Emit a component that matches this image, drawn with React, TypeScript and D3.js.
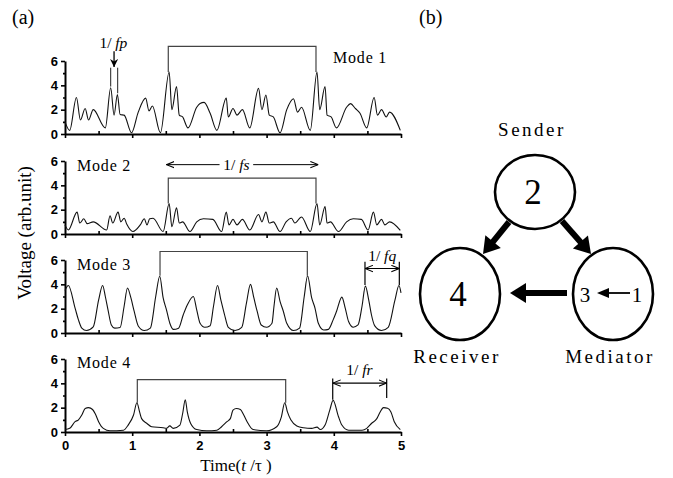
import React, { useEffect, useRef } from "react";
import * as d3 from "d3";

const timeTicks = [0, 1, 2, 3, 4, 5];
const timeMinor = [0.5, 1.5, 2.5, 3.5, 4.5];
const voltTicks = [0, 2, 4, 6];
const voltMinor = [1, 3, 5];
const modeNames = ["Mode 1", "Mode 2", "Mode 3", "Mode 4"];

// [t/tau, voltage]
const mode1: [number, number][] = [
  [0, 1.0], [0.07, 0.3], [0.17, 3.0], [0.23, 1.15], [0.3, 2.1], [0.35, 1.15], [0.42, 2.0],
  [0.6, 0.5], [0.68, 3.8], [0.73, 1.55], [0.78, 3.25], [0.82, 1.6], [0.88, 1.55], [0.99, 0.1],
  [1.09, 1.8], [1.2, 2.95], [1.25, 1.9], [1.3, 2.3], [1.42, 0.1], [1.55, 5.1], [1.59, 2.0],
  [1.66, 3.9], [1.7, 1.55], [1.75, 1.4], [1.83, 0.5], [1.96, 2.2], [2.01, 2.5], [2.07, 2.6],
  [2.16, 1.7], [2.26, 0.3], [2.4, 2.95], [2.43, 1.4], [2.5, 2.1], [2.56, 1.55], [2.64, 2.0],
  [2.75, 0.5], [2.88, 3.75], [2.93, 2.0], [2.99, 3.2], [3.04, 1.55], [3.1, 1.4], [3.2, 0.1],
  [3.3, 2.0], [3.4, 2.9], [3.46, 1.8], [3.52, 2.2], [3.65, 0.3], [3.75, 5.1], [3.79, 2.0],
  [3.87, 3.9], [3.9, 1.55], [3.96, 1.4], [4.04, 0.5], [4.19, 2.2], [4.25, 2.5], [4.32, 2.1],
  [4.39, 1.7], [4.49, 0.5], [4.6, 3.0], [4.65, 1.55], [4.71, 2.0], [4.78, 1.4], [4.83, 1.8],
  [4.99, 0.3],
];

const mode2: [number, number][] = [
  [0, 0.75], [0.05, 0.33], [0.18, 1.8], [0.22, 0.9], [0.28, 1.25], [0.33, 0.85], [0.42, 1.0],
  [0.62, 0.33], [0.67, 1.5], [0.71, 0.9], [0.79, 1.8], [0.83, 1.0], [0.88, 1.3], [0.92, 0.8],
  [1.01, 0.2], [1.12, 0.75], [1.18, 1.25], [1.22, 0.75], [1.26, 1.25], [1.31, 1.3], [1.46, 0.2],
  [1.55, 2.5], [1.59, 0.6], [1.66, 2.15], [1.7, 0.9], [1.75, 1.0], [1.86, 0.2], [1.96, 1.0],
  [2.06, 1.25], [2.2, 1.2], [2.33, 0.2], [2.4, 1.8], [2.44, 0.75], [2.5, 1.2], [2.56, 0.75],
  [2.64, 1.2], [2.75, 0.33], [2.88, 1.6], [2.93, 1.0], [2.99, 1.8], [3.04, 0.9], [3.1, 1.0],
  [3.2, 0.2], [3.29, 1.0], [3.37, 1.3], [3.42, 0.9], [3.52, 1.4], [3.65, 0.2], [3.75, 2.5],
  [3.79, 0.75], [3.87, 2.25], [3.9, 0.9], [3.95, 1.0], [4.07, 0.2], [4.19, 1.0], [4.29, 1.25],
  [4.41, 1.2], [4.51, 0.33], [4.59, 1.8], [4.64, 0.75], [4.71, 1.2], [4.76, 0.75], [4.83, 1.0],
  [4.99, 0.3],
];

const mode3: [number, number][] = [
  [0, 3.5], [0.05, 3.9], [0.15, 2.05], [0.2, 1.08], [0.25, 0.4], [0.32, 0.2], [0.42, 0.5],
  [0.5, 2.7], [0.56, 3.9], [0.6, 3.0], [0.64, 1.9], [0.69, 0.66], [0.74, 0.4], [0.82, 0.45],
  [0.88, 2.2], [0.93, 3.7], [0.98, 2.9], [1.03, 1.77], [1.09, 0.58], [1.18, 0.2], [1.27, 0.4],
  [1.35, 3.0], [1.41, 4.67], [1.46, 2.9], [1.51, 1.9], [1.56, 0.8], [1.61, 0.3], [1.69, 0.4],
  [1.76, 1.5], [1.82, 2.3], [1.91, 3.0], [1.96, 1.9], [2.01, 0.8], [2.08, 0.47], [2.16, 0.6],
  [2.21, 2.2], [2.27, 3.9], [2.32, 2.7], [2.37, 1.6], [2.43, 0.47], [2.53, 0.2], [2.63, 0.47],
  [2.7, 2.45], [2.76, 4.0], [2.81, 2.9], [2.86, 1.77], [2.92, 0.66], [3.0, 0.47], [3.08, 0.8],
  [3.11, 2.2], [3.15, 3.7], [3.2, 2.6], [3.25, 1.77], [3.3, 0.8], [3.4, 0.2], [3.49, 0.4],
  [3.56, 3.0], [3.61, 4.7], [3.67, 2.9], [3.72, 2.05], [3.77, 0.8], [3.85, 0.25], [3.92, 0.3],
  [3.99, 1.08], [4.04, 1.77], [4.12, 2.95], [4.17, 2.05], [4.22, 0.94], [4.29, 0.47], [4.36, 0.66],
  [4.42, 2.2], [4.47, 3.85], [4.52, 2.7], [4.56, 1.5], [4.61, 0.58], [4.71, 0.2], [4.81, 0.47],
  [4.91, 2.7], [4.97, 3.9], [5.0, 3.3],
];

const mode4: [number, number][] = [
  [0, 0.2], [0.07, 0.3], [0.15, 0.85], [0.2, 1.0], [0.25, 1.4], [0.3, 1.93], [0.35, 2.0],
  [0.41, 1.85], [0.45, 1.5], [0.5, 0.85], [0.57, 0.3], [0.67, 0.1], [0.87, 0.15], [0.94, 0.57],
  [1.02, 1.4], [1.07, 2.4], [1.11, 1.65], [1.14, 1.1], [1.22, 0.7], [1.29, 0.43], [1.46, 0.35],
  [1.51, 0.3], [1.56, 0.5], [1.61, 0.3], [1.71, 0.57], [1.75, 1.5], [1.79, 2.65], [1.82, 1.65],
  [1.87, 0.7], [1.96, 0.2], [2.11, 0.1], [2.26, 0.15], [2.33, 0.43], [2.41, 0.85], [2.46, 1.1],
  [2.5, 1.8], [2.55, 1.93], [2.61, 1.85], [2.66, 1.4], [2.71, 0.85], [2.8, 0.2], [3.0, 0.1],
  [3.15, 0.43], [3.22, 1.25], [3.27, 2.4], [3.31, 1.65], [3.36, 1.0], [3.45, 0.5], [3.55, 0.35],
  [3.67, 0.3], [3.75, 0.4], [3.8, 0.2], [3.87, 0.57], [3.94, 1.8], [3.99, 2.6], [4.07, 1.25],
  [4.12, 0.57], [4.22, 0.15], [4.42, 0.15], [4.49, 0.3], [4.56, 0.7], [4.64, 1.1], [4.69, 1.65],
  [4.74, 2.0], [4.8, 1.95], [4.85, 1.65], [4.9, 0.85], [4.99, 0.2],
];

const modes = [mode1, mode2, mode3, mode4];

// period brackets: [mode, t start, t end, level, left drop, right drop]
const brackets: [number, number, number, number, number, number][] = [
  [0, 1.537, 3.735, 7.2, 5.1, 5.1],
  [1, 1.537, 3.735, 4.6, 2.5, 2.5],
  [2, 1.414, 3.606, 6.7, 4.7, 4.7],
  [3, 1.076, 3.284, 4.3, 2.4, 2.4],
];

const SERIF = "'Liberation Serif', 'Times New Roman', serif";
const SANS = "'Liberation Sans', Arial, sans-serif";

export default function App() {
  const ref = useRef<SVGSVGElement>(null);

  useEffect(() => {
    const svg = d3.select(ref.current);
    svg.selectAll("*").remove();

    const defs = svg.append("defs");
    defs
      .append("marker")
      .attr("id", "open")
      .attr("viewBox", "0 0 10 10")
      .attr("refX", 10)
      .attr("refY", 5)
      .attr("markerWidth", 8)
      .attr("markerHeight", 8)
      .attr("markerUnits", "userSpaceOnUse")
      .attr("orient", "auto-start-reverse")
      .append("path")
      .attr("d", "M0,1 L10,5 L0,9")
      .attr("fill", "none")
      .attr("stroke", "#000")
      .attr("stroke-width", 1.3);
    defs
      .append("marker")
      .attr("id", "solid")
      .attr("viewBox", "0 0 10 10")
      .attr("refX", 10)
      .attr("refY", 5)
      .attr("markerWidth", 8)
      .attr("markerHeight", 8)
      .attr("markerUnits", "userSpaceOnUse")
      .attr("orient", "auto")
      .append("path")
      .attr("d", "M0,0 L10,5 L0,10 L3,5 Z")
      .attr("fill", "#000");

    const x = d3.scaleLinear().domain([0, 5]).range([65, 401]);
    const bottoms = [134, 234, 333, 432];

    const scales = bottoms.map((b) =>
      d3.scaleLinear().domain([0, 6]).range([b, b - 73])
    );

    modes.forEach((data, i) => {
      const y = scales[i];
      const g = svg.append("g");

      // x axis
      const xa = g
        .append("g")
        .attr("transform", `translate(0,${bottoms[i]})`)
        .call(
          d3
            .axisBottom(x)
            .tickValues(timeTicks)
            .tickSize(4)
            .tickSizeOuter(0)
            .tickPadding(5)
            .tickFormat((d) => (i === 3 ? String(d) : ""))
        );
      g.append("g")
        .attr("transform", `translate(0,${bottoms[i]})`)
        .call(
          d3.axisBottom(x).tickValues(timeMinor).tickSize(-3).tickSizeOuter(0).tickFormat(() => "")
        )
        .select(".domain")
        .remove();

      // y axis
      const ya = g
        .append("g")
        .attr("transform", "translate(65,0)")
        .call(
          d3
            .axisLeft(y)
            .tickValues(voltTicks)
            .tickSize(4)
            .tickSizeOuter(0)
            .tickPadding(3)
            .tickFormat((d) => String(d))
        );
      g.append("g")
        .attr("transform", "translate(65,0)")
        .call(d3.axisLeft(y).tickValues(voltMinor).tickSize(2).tickFormat(() => ""))
        .select(".domain")
        .remove();

      [xa, ya].forEach((a) => {
        a.select(".domain").attr("stroke-width", 2);
        a.selectAll("text")
          .attr("font-family", SANS)
          .attr("font-weight", "bold")
          .attr("font-size", 13)
          .attr("fill", "#000");
      });
      g.selectAll(".tick line").attr("stroke-width", 1.6);

      // trace
      const line = d3
        .line<[number, number]>()
        .x((d) => x(d[0]))
        .y((d) => y(d[1]))
        .curve(d3.curveMonotoneX);
      g.append("path")
        .datum(data)
        .attr("d", line)
        .attr("fill", "none")
        .attr("stroke", "#111")
        .attr("stroke-width", 1.1);
    });

    // brackets
    brackets.forEach(([m, t1, t2, lv, d1, d2]) => {
      const y = scales[m];
      svg
        .append("path")
        .attr("d", `M${x(t1)},${y(d1)} V${y(lv)} H${x(t2)} V${y(d2)}`)
        .attr("fill", "none")
        .attr("stroke", "#444")
        .attr("stroke-width", 1.2);
    });

    // mode labels
    const modeLabelPos: [number, number][] = [
      [333, 63],
      [77, 171],
      [77, 270],
      [77, 368],
    ];
    modeNames.forEach((n, i) => {
      svg
        .append("text")
        .attr("x", modeLabelPos[i][0])
        .attr("y", modeLabelPos[i][1])
        .attr("font-family", SERIF)
        .attr("font-size", 16)
        .attr("letter-spacing", 0.8)
        .text(n);
    });

    const freqLabel = (cx: number, by: number, sub: string) => {
      const t = svg
        .append("text")
        .attr("x", cx)
        .attr("y", by)
        .attr("text-anchor", "middle")
        .attr("font-family", SERIF)
        .attr("font-size", 15.5);
      t.append("tspan").text("1/ ");
      t.append("tspan").attr("font-style", "italic").text(sub);
    };

    // 1/fp (mode 1)
    {
      const y = scales[0];
      svg
        .append("path")
        .attr("d", `M${x(0.68)},${y(3.9)} V${y(5.45)} M${x(0.784)},${y(3.35)} V${y(5.45)}`)
        .attr("stroke", "#222")
        .attr("stroke-width", 1);
      svg
        .append("line")
        .attr("x1", x(0.73))
        .attr("x2", x(0.73))
        .attr("y1", y(6.8))
        .attr("y2", y(5.5))
        .attr("stroke", "#000")
        .attr("stroke-width", 1.3)
        .attr("marker-end", "url(#solid)");
      freqLabel(x(0.72), y(7.05), "fp");
    }

    // 1/fs (mode 2)
    {
      const y = scales[1];
      const yy = y(5.7);
      svg
        .append("line")
        .attr("x1", x(1.51))
        .attr("x2", x(2.3))
        .attr("y1", yy)
        .attr("y2", yy)
        .attr("stroke", "#000")
        .attr("marker-start", "url(#open)");
      svg
        .append("line")
        .attr("x1", x(2.8))
        .attr("x2", x(3.77))
        .attr("y1", yy)
        .attr("y2", yy)
        .attr("stroke", "#000")
        .attr("marker-end", "url(#open)");
      freqLabel(x(2.55), yy + 5, "fs");
    }

    // 1/fq (mode 3)
    {
      const y = scales[2];
      svg
        .append("path")
        .attr("d", `M${x(4.464)},${y(5.85)} V${y(3.95)} M${x(4.975)},${y(5.85)} V${y(3.95)}`)
        .attr("stroke", "#000")
        .attr("stroke-width", 1.2);
      svg
        .append("line")
        .attr("x1", x(4.464))
        .attr("x2", x(4.975))
        .attr("y1", y(5.3))
        .attr("y2", y(5.3))
        .attr("stroke", "#000")
        .attr("stroke-width", 1.2)
        .attr("marker-start", "url(#open)")
        .attr("marker-end", "url(#open)");
      freqLabel(x(4.72), y(5.9), "fq");
    }

    // 1/fr (mode 4)
    {
      const y = scales[3];
      svg
        .append("path")
        .attr("d", `M${x(3.984)},${y(4.4)} V${y(2.65)} M${x(4.787)},${y(4.4)} V${y(2.8)}`)
        .attr("stroke", "#000")
        .attr("stroke-width", 1.2);
      svg
        .append("line")
        .attr("x1", x(3.984))
        .attr("x2", x(4.787))
        .attr("y1", y(4.02))
        .attr("y2", y(4.02))
        .attr("stroke", "#000")
        .attr("stroke-width", 1.2)
        .attr("marker-start", "url(#open)")
        .attr("marker-end", "url(#open)");
      freqLabel(x(4.38), y(4.7), "fr");
    }

    // axis titles and panel tags
    svg
      .append("text")
      .attr("transform", "translate(31,233) rotate(-90)")
      .attr("text-anchor", "middle")
      .attr("font-family", SERIF)
      .attr("font-size", 19)
      .text("Voltage (arb.unit)");
    const tt = svg
      .append("text")
      .attr("x", 236)
      .attr("y", 471)
      .attr("text-anchor", "middle")
      .attr("font-family", SERIF)
      .attr("font-size", 17);
    tt.append("tspan").text("Time(");
    tt.append("tspan").attr("font-style", "italic").text("t");
    tt.append("tspan").text(" /τ )");

    svg.append("text").attr("x", 12).attr("y", 24).attr("font-family", SERIF).attr("font-size", 20).text("(a)");
    svg.append("text").attr("x", 419).attr("y", 24).attr("font-family", SERIF).attr("font-size", 20).text("(b)");

    // panel (b): three-node diagram
    const nodes = [
      { cx: 535, cy: 192, rx: 40, ry: 37, num: "2", label: "Sender", ly: 136 },
      { cx: 460, cy: 294, rx: 40, ry: 46, num: "4", label: "Receiver", ly: 363 },
      { cx: 613, cy: 294, rx: 40, ry: 46, num: "", label: "Mediator", ly: 363 },
    ];
    const b = svg.append("g");
    nodes.forEach((n) => {
      b.append("ellipse")
        .attr("cx", n.cx)
        .attr("cy", n.cy)
        .attr("rx", n.rx)
        .attr("ry", n.ry)
        .attr("fill", "none")
        .attr("stroke", "#000")
        .attr("stroke-width", 2.6);
      if (n.num)
        b.append("text")
          .attr("x", n.cx - 2)
          .attr("y", n.cy + 12)
          .attr("text-anchor", "middle")
          .attr("font-family", SERIF)
          .attr("font-size", 35)
          .text(n.num);
      b.append("text")
        .attr("x", n.cx - 3)
        .attr("y", n.ly)
        .attr("text-anchor", "middle")
        .attr("font-family", SERIF)
        .attr("font-size", 19)
        .attr("letter-spacing", 2.5)
        .text(n.label);
    });
    b.append("text").attr("x", 585).attr("y", 302).attr("text-anchor", "middle").attr("font-family", SERIF).attr("font-size", 21).text("3");
    b.append("text").attr("x", 637).attr("y", 302).attr("text-anchor", "middle").attr("font-family", SERIF).attr("font-size", 21).text("1");
    b.append("line")
      .attr("x1", 630)
      .attr("y1", 293)
      .attr("x2", 606)
      .attr("y2", 293)
      .attr("stroke", "#000")
      .attr("stroke-width", 1.8);
    b.append("path").attr("d", "M597,293 L609,288 L609,298 Z").attr("fill", "#000");

    // thick arrows
    const thick = (x1: number, y1: number, x2: number, y2: number) => {
      const a = Math.atan2(y2 - y1, x2 - x1);
      const hl = 16;
      const hw = 10;
      const bx = x2 - hl * Math.cos(a);
      const by = y2 - hl * Math.sin(a);
      b.append("line")
        .attr("x1", x1)
        .attr("y1", y1)
        .attr("x2", bx + 2 * Math.cos(a))
        .attr("y2", by + 2 * Math.sin(a))
        .attr("stroke", "#000")
        .attr("stroke-width", 6);
      const px = -Math.sin(a) * hw;
      const py = Math.cos(a) * hw;
      b.append("path")
        .attr("d", `M${x2},${y2} L${bx + px},${by + py} L${bx - px},${by - py} Z`)
        .attr("fill", "#000");
    };
    thick(509, 222, 483, 254);
    thick(562, 221, 591, 254);
    thick(567, 293, 510, 293);
  }, []);

  return (
    <svg
      ref={ref}
      width={673}
      height={478}
      style={{ position: "absolute", left: 0, top: 0, background: "#fff" }}
    />
  );
}
